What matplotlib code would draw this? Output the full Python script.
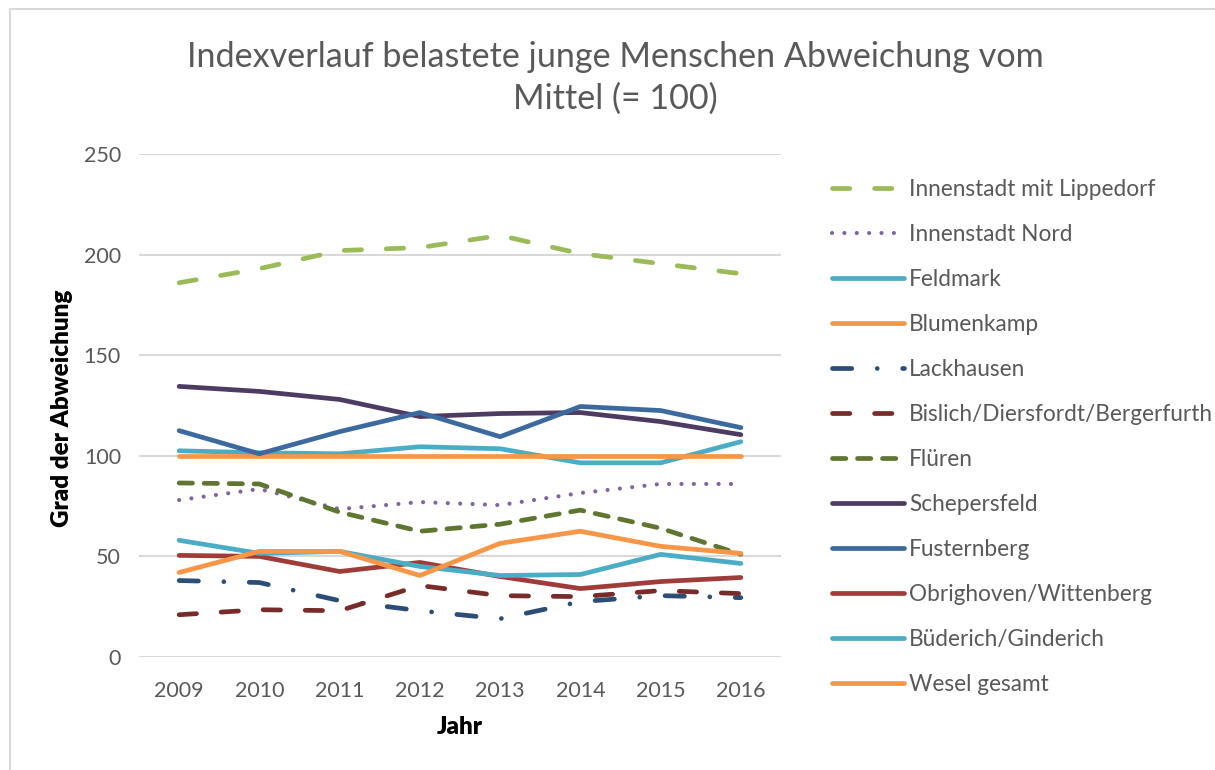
import matplotlib
matplotlib.use("Agg")
import matplotlib.pyplot as plt
from matplotlib.lines import Line2D

plt.rcParams['font.family'] = ['Lato', 'DejaVu Sans']
plt.rcParams['lines.scale_dashes'] = False

years = ['2009', '2010', '2011', '2012', '2013', '2014', '2015', '2016']

innenstadt_lippedorf = [186, 193, 202, 203.5, 209.5, 200.5, 195.5, 190.5]
innenstadt_nord = [78, 83.5, 73.5, 77, 75.5, 81.5, 86, 86]
feldmark = [102.5, 101.5, 101, 104.5, 103.5, 96.5, 96.5, 107]
blumenkamp = [100, 100, 100, 100, 100, 100, 100, 100]
lackhausen = [38, 37, 28, 23, 19, 27.5, 30.5, 29.5]
bislich = [21, 23.5, 23, 35.5, 30.5, 30, 33, 31.5]
flueren = [86.5, 86, 72, 62.5, 66, 73, 64, 51]
schepersfeld = [134.5, 132, 128, 119.5, 121, 121.5, 117, 110.5]
fusternberg = [112.5, 101, 112, 121.5, 109.5, 124.5, 122.5, 114]
obrighoven = [50.5, 50, 42.5, 47, 40, 34, 37.5, 39.5]
buederich = [58, 51.5, 52.5, 45, 40.5, 41, 51, 46.5]
wesel_gesamt = [42, 52.5, 52.5, 40.5, 56.5, 62.5, 55, 51.5]

series_names = ['Innenstadt mit Lippedorf', 'Innenstadt Nord', 'Feldmark', 'Blumenkamp',
                'Lackhausen', 'Bislich/Diersfordt/Bergerfurth', 'Flüren', 'Schepersfeld',
                'Fusternberg', 'Obrighoven/Wittenberg', 'Büderich/Ginderich', 'Wesel gesamt']
series_values = [innenstadt_lippedorf, innenstadt_nord, feldmark, blumenkamp, lackhausen,
                 bislich, flueren, schepersfeld, fusternberg, obrighoven, buederich, wesel_gesamt]

colors = ['#9BBB59', '#8064A2', '#4BACC6', '#F79646', '#2C4D75', '#772C2A',
          '#5F7530', '#4D3B62', '#3C6A9E', '#9E3C39', '#4BACC6', '#F79646']
LW = 3.4
dashes = [(0, (12.5, 17.8)), (0, (0.01, 8.9)), None, None,
          (0, (13.9, 18.3, 0.01, 18.3)), (0, (12.5, 17.8)), (0, (9.6, 8.4)),
          None, None, None, None, None]
lws = [LW, 3.0, LW, LW, LW, LW, LW, LW, LW, LW, LW, LW]

W, H = 1215, 770
fig = plt.figure(figsize=(W / 100, H / 100), dpi=100)
ax_l, ax_r, ax_t, ax_b = 139, 781, 154, 657
ax = fig.add_axes([ax_l / W, 1 - ax_b / H, (ax_r - ax_l) / W, (ax_b - ax_t) / H])

x = list(range(len(years)))
handles = []
for name, vals, c, d, lw in zip(series_names, series_values, colors, dashes, lws):
    kw = dict(color=c, lw=lw, solid_capstyle='round', dash_capstyle='round',
              solid_joinstyle='round', dash_joinstyle='round', label=name)
    if d is not None:
        kw['linestyle'] = d
    ln, = ax.plot(x, vals, **kw)
    handles.append(ln)

ax.set_xlim(-0.5, len(years) - 0.5)
ax.set_ylim(0, 250)
ax.set_yticks([0, 50, 100, 150, 200, 250])
ax.set_xticks(x)
ax.set_xticklabels(years)
for s in ax.spines.values():
    s.set_visible(False)
ax.grid(axis='y', color='#D9D9D9', lw=1.5)
ax.set_axisbelow(True)
ax.tick_params(axis='both', length=0, labelsize=15.5, labelcolor='#595959')
ax.tick_params(axis='y', pad=13)
ax.tick_params(axis='x', pad=17)

fig.text(62 / W, 1 - 408 / H, 'Grad der Abweichung', rotation=90, ha='center', va='center',
         fontsize=17.5, fontweight='heavy', color='black')
fig.text(460 / W, 1 - 727 / H, 'Jahr', ha='center', va='center',
         fontsize=17.5, fontweight='heavy', color='black')

fig.text(615 / W, 1 - 41 / H,
         'Indexverlauf belastete junge Menschen Abweichung vom\nMittel (= 100)',
         ha='center', va='top', fontsize=24.6, color='#595959', linespacing=1.36)

fig.legend(handles=handles, loc='upper left', bbox_to_anchor=(832 / W, 1 - 179 / H),
           frameon=False, fontsize=16.3, labelcolor='#595959', handlelength=3.18,
           handletextpad=0.22, labelspacing=1.06, borderpad=0, borderaxespad=0)

# chart frame (top and left edges)
fig.add_artist(Line2D([10 / W, 1], [1 - 9 / H, 1 - 9 / H], transform=fig.transFigure,
                      color='#D9D9D9', lw=1.5))
fig.add_artist(Line2D([10 / W, 10 / W], [0, 1 - 9 / H], transform=fig.transFigure,
                      color='#D9D9D9', lw=1.5))

fig.savefig('out.png', dpi=100, facecolor='white')
